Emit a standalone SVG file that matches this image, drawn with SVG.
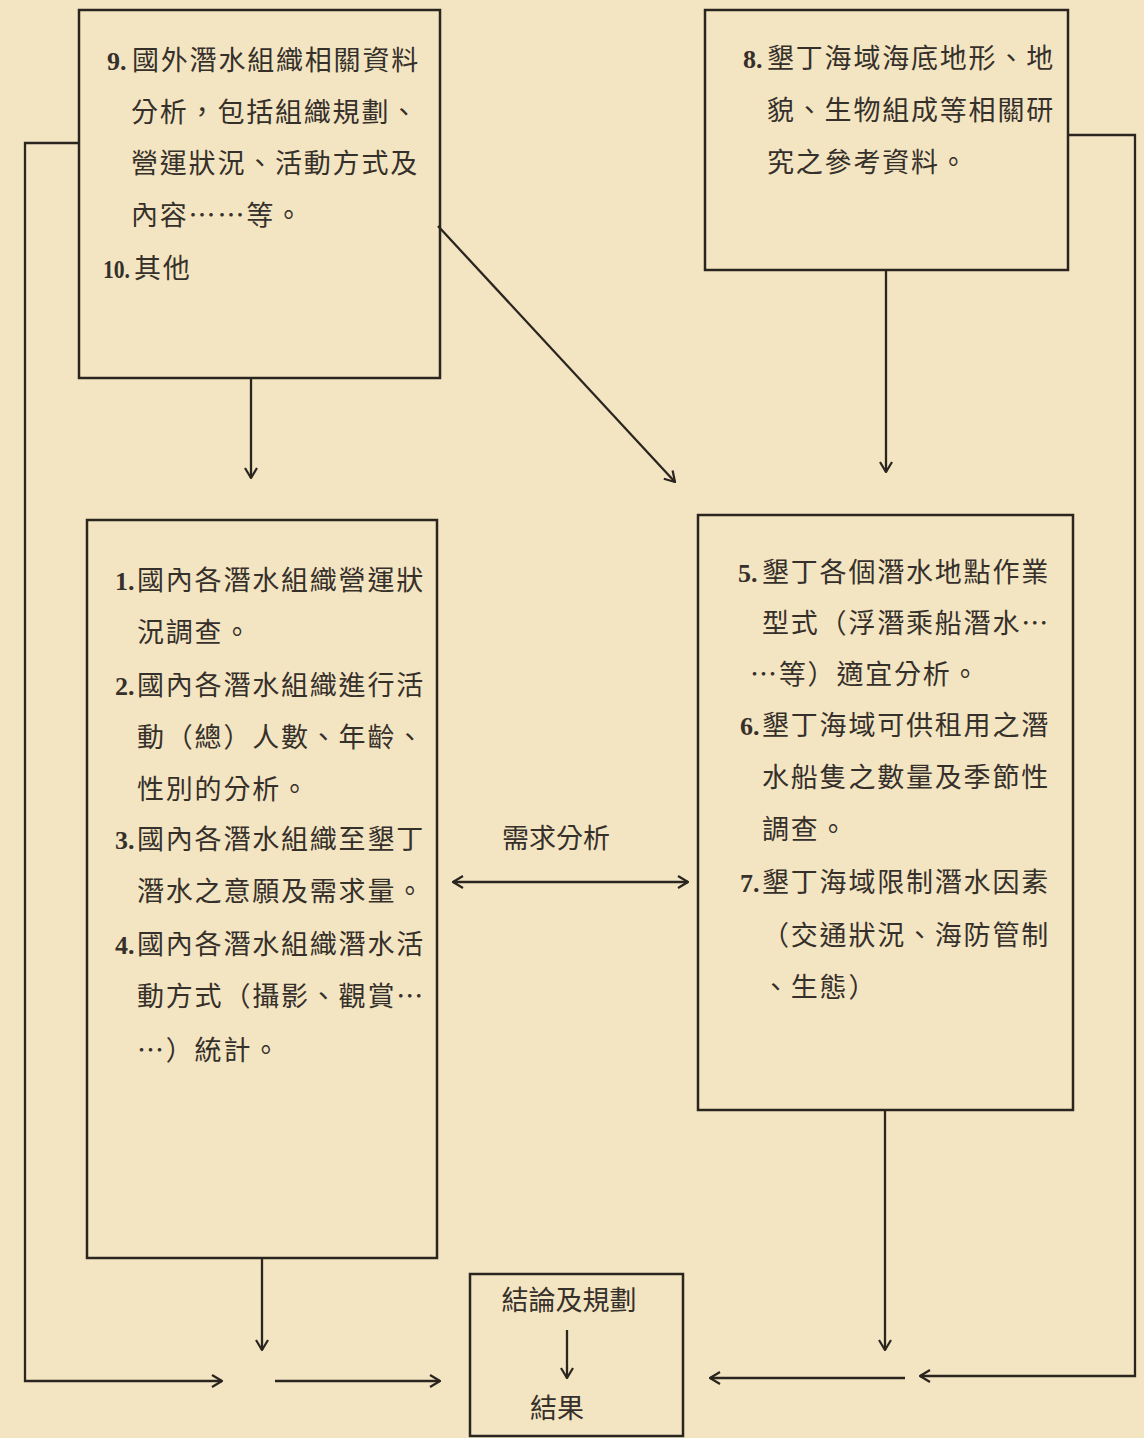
<svg xmlns="http://www.w3.org/2000/svg" width="1144" height="1438" viewBox="0 0 1144 1438">
<style>
.bg{fill:#f3e5c2}
.box{fill:none;stroke:#2b2520;stroke-width:2.5}
.ln{fill:none;stroke:#2b2520;stroke-width:2.3}
.t{font-family:"Noto Sans CJK TC","Noto Sans CJK SC",sans-serif;font-size:27px;letter-spacing:1.8px;fill:#36302b}
.n{font-family:"Liberation Serif",serif;font-weight:bold;font-size:26px;fill:#36302b}
.c{font-family:"Noto Sans CJK TC","Noto Sans CJK SC",sans-serif;font-size:27px;fill:#36302b;text-anchor:middle}
</style>
<defs>
<marker id="ah" viewBox="0 0 12 14" refX="11" refY="7" markerWidth="12" markerHeight="14" markerUnits="userSpaceOnUse" orient="auto-start-reverse">
<path d="M1,1 L11,7 L1,13" fill="none" stroke="#2b2520" stroke-width="2.2"/>
</marker>
</defs>
<rect class="bg" x="0" y="0" width="1144" height="1438"/>

<g id="connectors">
<polyline class="ln" points="79,143 25,143 25,1381 222,1381" marker-end="url(#ah)"/>
<line class="ln" x1="275" y1="1381" x2="440" y2="1381" marker-end="url(#ah)"/>
<polyline class="ln" points="1068,135 1135,135 1135,1376 920,1376" marker-end="url(#ah)"/>
<line class="ln" x1="905" y1="1378" x2="710" y2="1378" marker-end="url(#ah)"/>
<line class="ln" x1="251" y1="378" x2="251" y2="478" marker-end="url(#ah)"/>
<line class="ln" x1="886" y1="270" x2="886" y2="472" marker-end="url(#ah)"/>
<line class="ln" x1="438" y1="226" x2="675" y2="482" marker-end="url(#ah)"/>
<line class="ln" x1="262" y1="1258" x2="262" y2="1350" marker-end="url(#ah)"/>
<line class="ln" x1="885" y1="1110" x2="885" y2="1350" marker-end="url(#ah)"/>
<line class="ln" x1="453" y1="882" x2="688" y2="882" marker-start="url(#ah)" marker-end="url(#ah)"/>
<text class="c" x="556" y="848">需求分析</text>
</g>

<g id="node9">
<rect class="box" x="79" y="10" width="361" height="368"/>
<text class="n" x="107" y="70">9.</text>
<text class="t" x="132" y="70">國外潛水組織相關資料</text>
<text class="t" x="131" y="122">分析，包括組織規劃、</text>
<text class="t" x="131" y="173">營運狀況、活動方式及</text>
<text class="t" x="131" y="225">內容……等。</text>
<text class="n" x="103" y="278" textLength="27" lengthAdjust="spacingAndGlyphs">10.</text>
<text class="t" x="134" y="278">其他</text>
</g>

<g id="node8">
<rect class="box" x="705" y="10" width="363" height="260"/>
<text class="n" x="743" y="68">8.</text>
<text class="t" x="767" y="68">墾丁海域海底地形、地</text>
<text class="t" x="767" y="120">貌、生物組成等相關研</text>
<text class="t" x="767" y="172">究之參考資料。</text>
</g>

<g id="node1">
<rect class="box" x="87" y="520" width="350" height="738"/>
<text class="n" x="115" y="590">1.</text>
<text class="t" x="137" y="590">國內各潛水組織營運狀</text>
<text class="t" x="137" y="642">況調查。</text>
<text class="n" x="115" y="695">2.</text>
<text class="t" x="137" y="695">國內各潛水組織進行活</text>
<text class="t" x="137" y="747">動（總）人數、年齡、</text>
<text class="t" x="137" y="799">性別的分析。</text>
<text class="n" x="115" y="849">3.</text>
<text class="t" x="137" y="849">國內各潛水組織至墾丁</text>
<text class="t" x="137" y="901">潛水之意願及需求量。</text>
<text class="n" x="115" y="954">4.</text>
<text class="t" x="137" y="954">國內各潛水組織潛水活</text>
<text class="t" x="137" y="1006">動方式（攝影、觀賞…</text>
<text class="t" x="137" y="1060">…）統計。</text>
</g>

<g id="node5">
<rect class="box" x="698" y="515" width="375" height="595"/>
<text class="n" x="738" y="582">5.</text>
<text class="t" x="762" y="582">墾丁各個潛水地點作業</text>
<text class="t" x="762" y="633">型式（浮潛乘船潛水…</text>
<text class="t" x="750" y="684">…等）適宜分析。</text>
<text class="n" x="740" y="735">6.</text>
<text class="t" x="762" y="735">墾丁海域可供租用之潛</text>
<text class="t" x="762" y="787">水船隻之數量及季節性</text>
<text class="t" x="762" y="839">調查。</text>
<text class="n" x="740" y="892">7.</text>
<text class="t" x="762" y="892">墾丁海域限制潛水因素</text>
<text class="t" x="762" y="945">（交通狀況、海防管制</text>
<text class="t" x="762" y="997">、生態）</text>
</g>

<g id="result">
<rect class="box" x="470" y="1274" width="213" height="162"/>
<text class="c" x="569" y="1310">結論及規劃</text>
<line class="ln" x1="567" y1="1330" x2="567" y2="1378" marker-end="url(#ah)"/>
<text class="c" x="557" y="1418">結果</text>
</g>
</svg>
